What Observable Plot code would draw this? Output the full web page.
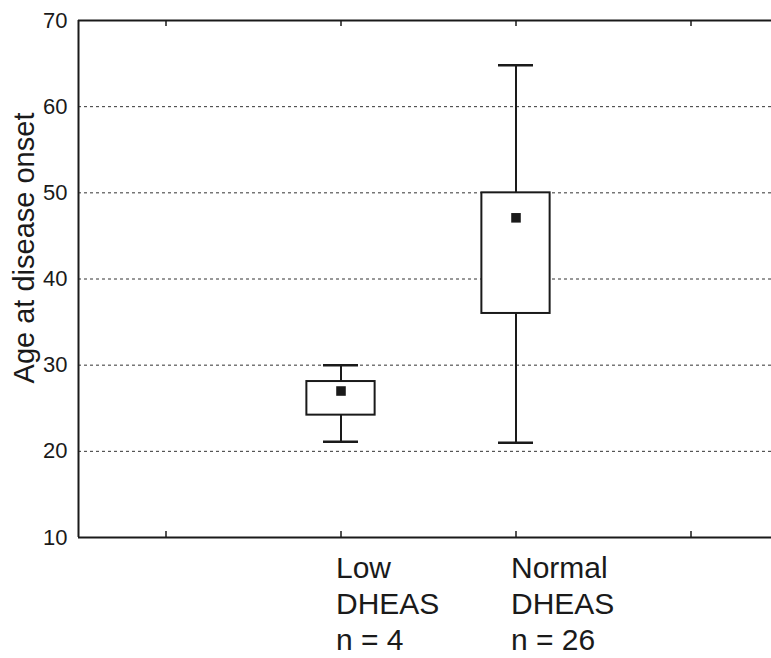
<!DOCTYPE html>
<html>
<head>
<meta charset="utf-8">
<script src="https://cdn.jsdelivr.net/npm/d3@7"></script>
<script src="https://cdn.jsdelivr.net/npm/@observablehq/plot@0.6"></script>
<style>
  html, body { margin: 0; padding: 0; background: #fff; }
  #chart svg { display: block; }
</style>
</head>
<body>
<div id="chart"></div>
<script>
// ---- data ----
const groups = ["Low", "Normal"];
const groupLabels = ["Low\nDHEAS\nn = 4", "Normal\nDHEAS\nn = 26"];
const groupSlot = [1, 2];            // category slot index on the x axis
const whiskerMin = [21.1, 21.0];
const boxLow = [24.2, 36.0];
const boxHigh = [28.1, 50.0];
const whiskerMax = [30.0, 64.8];
const means = [27.0, 47.1];
const yTicks = [10, 20, 30, 40, 50, 60, 70];
const gridValues = [20, 30, 40, 50, 60];
const slotTicks = [0, 1, 2, 3];      // category slots (tick marks on frame)
const yLabel = "Age at disease onset";

const data = groups.map((g, i) => ({
  group: g, label: groupLabels[i], slot: groupSlot[i],
  wmin: whiskerMin[i], q1: boxLow[i], q3: boxHigh[i], wmax: whiskerMax[i], mean: means[i]
}));

const boxHalf = 0.195, capHalf = 0.1;
const ink = "#1a1a1a";
const font = "Liberation Sans, Arial, Helvetica, sans-serif";

const chart = Plot.plot({
  width: 771,
  height: 658,
  marginLeft: 78,
  marginRight: 0,
  marginTop: 20,
  marginBottom: 121,
  style: { fontFamily: font, background: "#fff", color: ink },
  x: { type: "linear", domain: [0, 3.96], axis: null },
  y: { domain: [10, 70], axis: null },
  marks: [
    // dashed grid
    Plot.ruleY(gridValues, { stroke: "#333", strokeWidth: 1, strokeDasharray: "3,3" }),
    // frame: left, top, bottom
    Plot.ruleX([0], { stroke: ink, strokeWidth: 2 }),
    Plot.ruleY([10, 70], { stroke: ink, strokeWidth: 2 }),
    // inner ticks on top and bottom
    Plot.ruleX(slotTicks, { x: d => d + 0.5, y1: 10, y2: 10.7, stroke: ink, strokeWidth: 1.5 }),
    Plot.ruleX(slotTicks, { x: d => d + 0.5, y1: 69.3, y2: 70, stroke: ink, strokeWidth: 1.5 }),
    // y tick labels
    Plot.text(yTicks, { x: 0, y: d => d, text: d => String(d), textAnchor: "end", dx: -11, fontSize: 22, fill: ink }),
    // y label
    Plot.text([yLabel], { frameAnchor: "left", textAnchor: "middle", rotate: -90, dx: -54, dy: -31, fontSize: 29, fill: ink }),
    // whiskers
    Plot.ruleX(data, { x: d => d.slot + 0.5, y1: "wmin", y2: "q1", stroke: ink, strokeWidth: 2 }),
    Plot.ruleX(data, { x: d => d.slot + 0.5, y1: "q3", y2: "wmax", stroke: ink, strokeWidth: 2 }),
    Plot.ruleY(data, { y: "wmin", x1: d => d.slot + 0.5 - capHalf, x2: d => d.slot + 0.5 + capHalf, stroke: ink, strokeWidth: 2.5 }),
    Plot.ruleY(data, { y: "wmax", x1: d => d.slot + 0.5 - capHalf, x2: d => d.slot + 0.5 + capHalf, stroke: ink, strokeWidth: 2.5 }),
    // boxes
    Plot.rect(data, { x1: d => d.slot + 0.5 - boxHalf, x2: d => d.slot + 0.5 + boxHalf, y1: "q1", y2: "q3", fill: "#fff", stroke: ink, strokeWidth: 2 }),
    // means
    Plot.dot(data, { x: d => d.slot + 0.5, y: "mean", symbol: "square", r: 5.4, fill: ink, stroke: "none" }),
    // category labels
    Plot.text(data, { x: d => d.slot + 0.5, y: 10, text: "label", textAnchor: "start", lineAnchor: "top", dx: -5, dy: 15, lineHeight: 1.2, fontSize: 30, fill: ink })
  ]
});

document.getElementById("chart").appendChild(chart);
</script>
</body>
</html>
